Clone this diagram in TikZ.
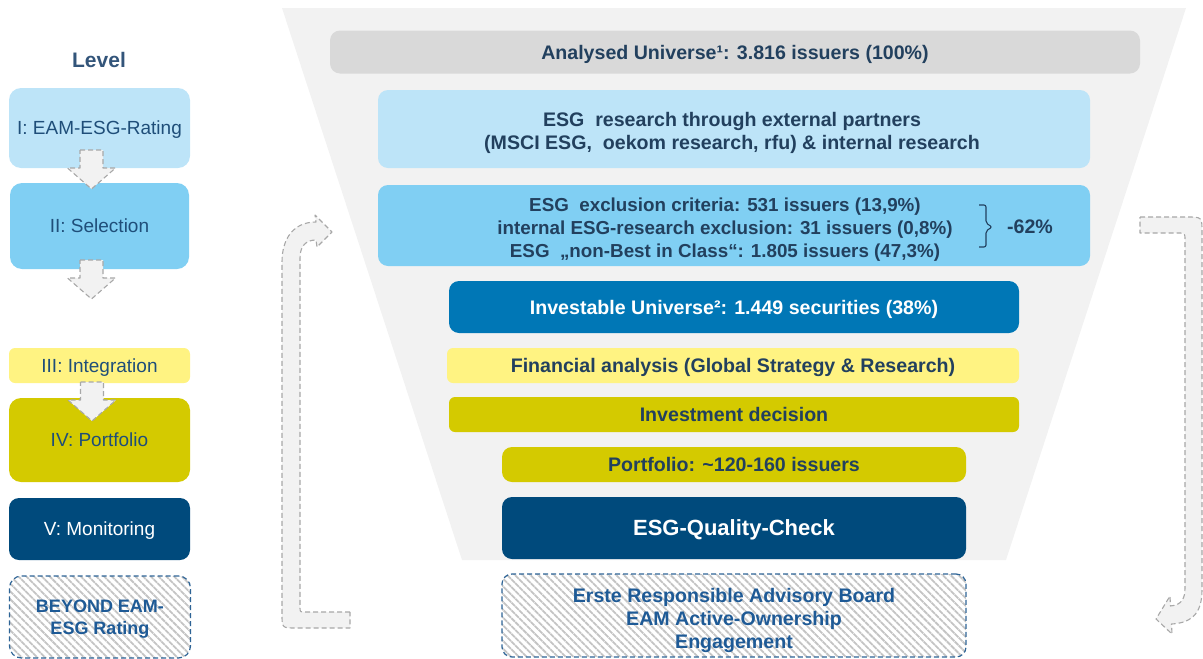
\documentclass[tikz,border=0pt]{standalone}
\usepackage{fontspec}
\setmainfont{Liberation Sans}
\usetikzlibrary{patterns.meta}
\definecolor{funnelbg}{HTML}{F2F2F2}
\definecolor{graybar}{HTML}{D9D9D9}
\definecolor{lightblue}{HTML}{BDE4F8}
\definecolor{midblue}{HTML}{80CFF3}
\definecolor{blue}{HTML}{0077B6}
\definecolor{lightyellow}{HTML}{FFF382}
\definecolor{olive}{HTML}{D4CA00}
\definecolor{darkblue}{HTML}{004A7C}
\definecolor{txt}{HTML}{22405E}
\definecolor{lvltxt}{HTML}{1F4E79}
\definecolor{leveltxt}{HTML}{33557A}
\definecolor{dashblue}{HTML}{2E6496}
\definecolor{engtxt}{HTML}{1E5A96}
\definecolor{hatch}{HTML}{C4C4C4}
\definecolor{arrowgray}{HTML}{A8A8A8}
\tikzset{
  bar/.style={rounded corners=10pt, inner sep=0pt, outer sep=0pt, align=center, text=txt,
    text depth=0pt, font=\bfseries\fontsize{19.6}{23}\selectfont},
  lvl/.style={rounded corners=12pt, inner sep=0pt, outer sep=0pt, align=center, text=lvltxt,
    text depth=0pt, minimum width=181pt, font=\fontsize{19}{22}\selectfont},
  hatchbox/.style={draw=dashblue, line width=1.2pt, dash pattern=on 5pt off 3pt,
    pattern={Lines[angle=-45,distance=5.5pt,line width=1.8pt]}, pattern color=hatch},
  arrowshape/.style={fill=funnelbg, draw=arrowgray, line width=1.1pt,
    dash pattern=on 5pt off 3pt, line join=round},
  downarrow/.pic={
    \path[arrowshape] (-11.5,0) -- (11.5,0) -- (11.5,18) -- (24,18) -- (0,39)
      -- (-24,18) -- (-11.5,18) -- cycle;
  }
}
\begin{document}
\begin{tikzpicture}[x=1pt,y=-1pt]
\useasboundingbox (0,0) rectangle (1203,659);
% funnel background
\fill[funnelbg] (282,8) -- (1186,8) -- (1006,560) -- (462,560) -- cycle;

% side arrows
\path[arrowshape] (350,612) -- (305,612) .. controls (300,612) .. (300,607)
  -- (300,258) .. controls (300,246) and (306,240) .. (316,240)
  -- (317,247) -- (332,232) -- (315,215) -- (316,222)
  .. controls (294,222) and (282,238) .. (282,262)
  -- (282,614) .. controls (282,628) .. (296,628) -- (350,628) -- cycle;
\path[arrowshape] (1140,217) -- (1187,217) .. controls (1202,217) .. (1202,232)
  -- (1202,590) .. controls (1202,615) and (1190,623) .. (1171.5,624)
  -- (1172,634) -- (1156,619) -- (1170,596) -- (1170.5,606)
  .. controls (1182,605) and (1185,598) .. (1185,588)
  -- (1185,240) .. controls (1185,233) .. (1178,233) -- (1140,233) -- cycle;

% funnel bars
\node[bar, fill=graybar, minimum width=810pt, minimum height=43pt] (au) at (735,52)
  {Analysed Universe¹: 3.816 issuers (100\%)};
\node[bar, fill=lightblue, minimum width=712pt, minimum height=78pt] (res) at (734,129) {};
\node[bar] (restxt) at (732,131)
  {ESG\ \ research through external partners\\(MSCI ESG,\ \ oekom research, rfu) \& internal research};
\node[bar, fill=midblue, minimum width=712pt, minimum height=81pt] (excl) at (734,225.5) {};
\node[bar, font=\bfseries\fontsize{18.8}{23}\selectfont] (excltxt) at (725,228)
  {ESG\ \ exclusion criteria: 531 issuers (13,9\%)\\internal ESG-research exclusion: 31 issuers (0,8\%)\\ESG\ \ „non-Best in Class“: 1.805 issuers (47,3\%)};
\draw[txt, line width=1.1pt, rounded corners=2pt] (979,205) -- (986,205) -- (986,223) -- (992,227) -- (986,231) -- (986,247) -- (979,247);
\node[bar] (pct) at (1030,227) {-62\%};
\node[bar, fill=blue, text=white, minimum width=570pt, minimum height=52pt] (inv) at (734,307)
  {Investable Universe²: 1.449 securities (38\%)};
\node[bar, fill=lightyellow, minimum width=572pt, minimum height=35pt, rounded corners=6pt] (fin) at (733,365.5)
  {Financial analysis (Global Strategy \& Research)};
\node[bar, fill=olive, minimum width=570pt, minimum height=35pt, rounded corners=6pt] (dec) at (734,414.5)
  {Investment decision};
\node[bar, fill=olive, minimum width=464pt, minimum height=35pt] (port) at (734,464.5)
  {Portfolio: \textasciitilde120-160 issuers};
\node[bar, fill=darkblue, text=white, minimum width=464pt, minimum height=62pt,
  font=\bfseries\fontsize{22}{26}\selectfont] (qc) at (734,528)
  {ESG-Quality-Check};
\node[bar, hatchbox, minimum width=464pt, minimum height=83pt, text=engtxt] (eng) at (734,615.5) {};
\node[bar, text=engtxt] (engtxt) at (734,618)
  {Erste Responsible Advisory Board\\EAM Active-Ownership\\Engagement};

% left column
\node[text=leveltxt, font=\bfseries\fontsize{21}{24}\selectfont] (level) at (99,60) {Level};
\node[lvl, fill=lightblue, minimum height=80pt] (l1) at (99.5,128) {I: EAM-ESG-Rating};
\node[lvl, fill=midblue, minimum height=86pt, minimum width=179pt] (l2) at (99.5,226) {II: Selection};
\node[lvl, fill=lightyellow, minimum height=35pt, rounded corners=6pt] (l3) at (99.5,365.5) {III: Integration};
\node[lvl, fill=olive, minimum height=84pt] (l4) at (99.5,440) {IV: Portfolio};
\node[lvl, fill=darkblue, text=white, minimum height=62pt, rounded corners=10pt] (l5) at (99.5,529) {V: Monitoring};
\node[lvl, hatchbox, minimum height=82pt, text=engtxt, font=\bfseries\fontsize{18}{22}\selectfont] (l6) at (100,617)
  {BEYOND EAM-\\ESG Rating};

% down arrows
\pic at (91.5,150) {downarrow};
\pic at (91.5,260) {downarrow};
\pic at (92,382) {downarrow};
\end{tikzpicture}
\end{document}
